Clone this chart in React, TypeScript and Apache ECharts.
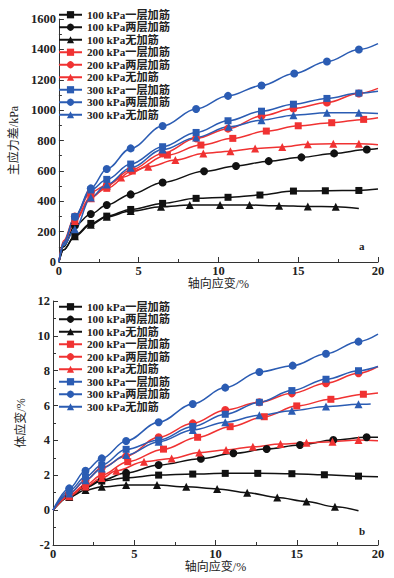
import React, { useEffect, useRef } from "react";
import * as echarts from "echarts";

// ---------- names / styles ----------
const names = [
  "100 kPa一层加筋",
  "100 kPa两层加筋",
  "100 kPa无加筋",
  "200 kPa一层加筋",
  "200 kPa两层加筋",
  "200 kPa无加筋",
  "300 kPa一层加筋",
  "300 kPa两层加筋",
  "300 kPa无加筋",
];
const colors = ["#111111", "#111111", "#111111", "#f03232", "#f03232", "#f03232", "#2b5cb3", "#2b5cb3", "#2b5cb3"];
const symbols = ["rect", "circle", "triangle", "rect", "circle", "triangle", "rect", "circle", "triangle"];

// ---------- chart a: 主应力差 (kPa) vs 轴向应变 (%) ----------
const aStrain100One = [0, 0.3, 1, 2, 3, 4.5, 6.5, 8.6, 10.6, 12.6, 14.7, 16.7, 18.8, 20];
const aStress100One = [0, 80, 175, 254, 302, 346, 386, 419, 426, 441, 467, 469, 471, 480];
const aStrain100Two = [0, 0.3, 1, 2, 3, 4.5, 6.5, 9.1, 11.1, 13.15, 15.2, 17.25, 19.3, 20];
const aStress100Two = [0, 100, 240, 316, 375, 445, 524, 597, 632, 664, 689, 715, 741, 748];
const aStrain100No = [0, 0.3, 1, 2, 3, 4.5, 6.4, 8.2, 10.1, 11.95, 13.8, 15.6, 17.35, 18.8];
const aStress100No = [0, 80, 170, 245, 298, 335, 364, 375, 375, 375, 370, 366, 364, 353];
const aStrain200One = [0, 0.3, 1, 2, 3, 4.6, 6.8, 8.9, 10.9, 13.0, 15.0, 17.1, 19.1, 20];
const aStress200One = [0, 130, 280, 430, 485, 599, 704, 770, 814, 862, 897, 917, 939, 950];
const aStrain200Two = [0, 0.3, 1, 2, 3, 4.5, 6.5, 8.6, 10.6, 12.7, 14.7, 16.8, 18.8, 20];
const aStress200Two = [0, 140, 300, 460, 505, 605, 715, 814, 878, 962, 1011, 1050, 1110, 1143];
const aStrain200No = [0, 0.3, 1, 2, 3, 3.9, 5.6, 7.3, 9.05, 10.75, 12.3, 14.0, 15.6, 17.2, 18.8, 20];
const aStress200No = [0, 120, 270, 420, 500, 557, 627, 671, 715, 730, 748, 757, 776, 778, 778, 772];
const aStrain300One = [0, 0.3, 1, 2, 3, 4.5, 6.5, 8.6, 10.6, 12.7, 14.7, 16.8, 18.8, 20];
const aStress300One = [0, 120, 298, 474, 544, 645, 759, 853, 930, 993, 1039, 1077, 1112, 1125];
const aStrain300Two = [0, 0.3, 1, 2, 3, 4.5, 6.5, 8.6, 10.6, 12.7, 14.75, 16.8, 18.8, 20];
const aStress300Two = [0, 130, 298, 485, 612, 748, 895, 1007, 1094, 1162, 1241, 1320, 1399, 1438];
const aStrain300No = [0, 0.3, 1, 2, 3, 4.5, 6.5, 8.6, 10.65, 12.7, 14.7, 16.8, 18.8, 20];
const aStress300No = [0, 110, 215, 425, 510, 620, 740, 820, 890, 934, 967, 982, 982, 978];

// ---------- chart b: 体应变 (%) vs 轴向应变 (%) ----------
const bStrain100One = [0, 1, 2, 3, 4.5, 6.5, 8.6, 10.6, 12.6, 14.7, 16.7, 18.8, 20];
const bVol100One = [0, 0.8, 1.3, 1.67, 1.86, 2.01, 2.07, 2.11, 2.11, 2.09, 2.03, 1.95, 1.92];
const bStrain100Two = [0, 1, 2, 3, 4.5, 6.5, 9.1, 11.1, 13.15, 15.2, 17.25, 19.3, 20];
const bVol100Two = [0, 0.8, 1.35, 1.72, 2.14, 2.59, 2.95, 3.26, 3.51, 3.74, 4.02, 4.18, 4.18];
const bStrain100No = [0, 1, 2, 3, 4.5, 6.4, 8.2, 10.1, 11.95, 13.8, 15.6, 17.35, 18.8];
const bVol100No = [0, 0.75, 1.15, 1.34, 1.44, 1.44, 1.34, 1.22, 1.0, 0.73, 0.5, 0.19, -0.04];
const bStrain200One = [0, 1, 2, 3, 4.6, 6.8, 8.9, 10.9, 13.0, 15.0, 17.1, 19.1, 20];
const bVol200One = [0, 0.85, 1.45, 2.01, 2.78, 3.5, 4.18, 4.79, 5.36, 5.98, 6.36, 6.65, 6.72];
const bStrain200Two = [0, 1, 2, 3, 4.5, 6.5, 8.6, 10.6, 12.7, 14.7, 16.8, 18.8, 20];
const bVol200Two = [0, 0.95, 1.7, 2.45, 3.1, 4.18, 4.98, 5.75, 6.19, 6.7, 7.28, 7.85, 8.24];
const bStrain200No = [0, 1, 2, 3, 3.9, 5.6, 7.3, 9.0, 10.65, 12.3, 14.0, 15.6, 17.2, 18.8, 20];
const bVol200No = [0, 0.8, 1.35, 1.85, 2.26, 2.78, 2.97, 3.31, 3.45, 3.64, 3.79, 3.87, 3.93, 4.02, 3.98];
const bStrain300One = [0, 1, 2, 3, 4.5, 6.5, 8.6, 10.6, 12.7, 14.7, 16.8, 18.8, 20];
const bVol300One = [0, 1.1, 1.91, 2.59, 3.49, 4.02, 4.8, 5.5, 6.19, 6.86, 7.51, 8.0, 8.24];
const bStrain300Two = [0, 1, 2, 3, 4.5, 6.5, 8.6, 10.6, 12.7, 14.75, 16.8, 18.8, 20];
const bVol300Two = [0, 1.25, 2.26, 2.97, 3.97, 5.04, 6.09, 7.03, 7.93, 8.29, 8.97, 9.67, 10.1];
const bStrain300No = [0, 1, 2, 3, 4.5, 6.5, 8.6, 10.6, 12.7, 14.7, 16.8, 18.8, 19.55];
const bVol300No = [0, 0.95, 1.72, 2.39, 3.16, 3.93, 4.6, 5.04, 5.44, 5.71, 5.94, 6.07, 6.09];

const aSets: [number[], number[]][] = [
  [aStrain100One, aStress100One],
  [aStrain100Two, aStress100Two],
  [aStrain100No, aStress100No],
  [aStrain200One, aStress200One],
  [aStrain200Two, aStress200Two],
  [aStrain200No, aStress200No],
  [aStrain300One, aStress300One],
  [aStrain300Two, aStress300Two],
  [aStrain300No, aStress300No],
];
const bSets: [number[], number[]][] = [
  [bStrain100One, bVol100One],
  [bStrain100Two, bVol100Two],
  [bStrain100No, bVol100No],
  [bStrain200One, bVol200One],
  [bStrain200Two, bVol200Two],
  [bStrain200No, bVol200No],
  [bStrain300One, bVol300One],
  [bStrain300Two, bVol300Two],
  [bStrain300No, bVol300No],
];

const SERIF = "Liberation Serif, Noto Sans CJK SC, serif";

function buildSeries(sets: [number[], number[]][], gridIdx: number, lead: number) {
  return sets.map(([xs, ys], k) => {
    const last = xs.length - 1;
    return {
      type: "line",
      name: names[k],
      xAxisIndex: gridIdx,
      yAxisIndex: gridIdx,
      smooth: 0.35,
      smoothMonotone: "x",
      symbol: symbols[k],
      symbolSize: symbols[k] === "rect" ? 7 : 8,
      showAllSymbol: true,
      lineStyle: { color: colors[k], width: 1.5 },
      itemStyle: { color: colors[k] },
      z: 2,
      data: xs.map((x, i) =>
        i < lead || i === last ? { value: [x, ys[i]], symbol: "none" } : { value: [x, ys[i]] }
      ),
    };
  });
}

const plain = (v: number) => String(v);

function xAxisCfg(gridIndex: number) {
  return {
    type: "value",
    gridIndex,
    min: 0,
    max: 20,
    interval: 5,
    name: "轴向应变/%",
    nameLocation: "middle",
    nameGap: 15,
    nameTextStyle: { color: "#222", fontSize: 12, fontFamily: SERIF, verticalAlign: "top" },
    axisLine: { onZero: false, lineStyle: { color: "#333", width: 1 } },
    axisTick: { inside: true, length: 5, lineStyle: { color: "#333" } },
    minorTick: { show: true, splitNumber: 2, length: 3, lineStyle: { color: "#333" } },
    splitLine: { show: false },
    axisLabel: { color: "#222", fontSize: 12.5, fontFamily: SERIF, fontWeight: "bold", margin: 3, formatter: plain },
  };
}

function yAxisCfg(gridIndex: number, min: number, max: number, interval: number, name: string, nameGap: number) {
  return {
    type: "value",
    gridIndex,
    min,
    max,
    interval,
    name,
    nameLocation: "middle",
    nameGap,
    nameRotate: 90,
    nameTextStyle: { color: "#222", fontSize: 12, fontFamily: SERIF },
    axisLine: { show: true, onZero: false, lineStyle: { color: "#333", width: 1 } },
    axisTick: { inside: true, length: 5, lineStyle: { color: "#333" } },
    minorTick: { show: true, splitNumber: 2, length: 3, lineStyle: { color: "#333" } },
    splitLine: { show: false },
    axisLabel: { color: "#222", fontSize: 12.5, fontFamily: SERIF, fontWeight: "bold", margin: 3, formatter: plain },
  };
}

function legendCfg(top: number) {
  return {
    orient: "vertical",
    left: 58,
    top,
    data: names,
    itemWidth: 23,
    itemHeight: 9,
    itemGap: 1,
    padding: 0,
    textStyle: {
      color: "#222",
      fontSize: 11.2,
      fontFamily: SERIF,
      fontWeight: "bold",
      lineHeight: 11.5,
    },
  };
}

export default function App() {
  const ref = useRef<HTMLDivElement>(null);
  useEffect(() => {
    if (!ref.current) return;
    const chart = echarts.init(ref.current, null, { renderer: "svg" });
    chart.setOption({
      animation: false,
      backgroundColor: "#ffffff",
      grid: [
        { left: 53, top: 19, width: 325, height: 243 },
        { left: 53, top: 301, width: 325, height: 244 },
      ],
      xAxis: [xAxisCfg(0), xAxisCfg(1)],
      yAxis: [
        yAxisCfg(0, 0, 1600, 200, "主应力差/kPa", 38),
        yAxisCfg(1, -2, 12, 2, "体应变/%", 25),
      ],
      legend: [legendCfg(9), legendCfg(301)],
      graphic: [
        { type: "text", left: 359, top: 240, style: { text: "a", fontSize: 11, fontWeight: "bold", fontFamily: SERIF, fill: "#222" } },
        { type: "text", left: 359, top: 525, style: { text: "b", fontSize: 11, fontWeight: "bold", fontFamily: SERIF, fill: "#222" } },
      ],
      series: [...buildSeries(aSets, 0, 2), ...buildSeries(bSets, 1, 1)],
    });
    return () => chart.dispose();
  }, []);
  return (
    <div
      ref={ref}
      style={{ position: "fixed", left: 0, top: 0, width: 394, height: 578, background: "#fff" }}
    />
  );
}
